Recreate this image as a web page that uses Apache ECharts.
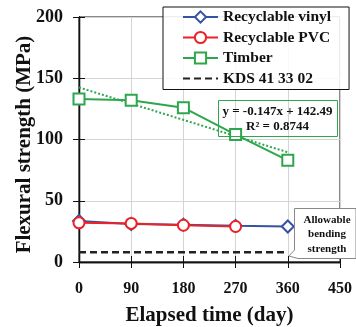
<!DOCTYPE html>
<html><head><meta charset="utf-8">
<script src="https://cdn.jsdelivr.net/npm/echarts@6/dist/echarts.min.js"></script>
<style>html,body{margin:0;padding:0;background:#fff}#c{width:356px;height:327px}</style>
</head><body><div id="c"></div>
<script>
const days = [0, 90, 180, 270, 360];
const vinyl = [33.5, 31, 30.5, 29.5, 29];
const pvc = [32, 31.5, 30, 29, null];
const timber = [133, 132, 126, 104, 83];
const trendDays = [0, 360];
const trendValues = [142.49, 89.57];
const kdsDays = [0, 360];
const kdsValues = [8, 8];
const xMin = 0, xMax = 450, xStep = 90;
const yMin = 0, yMax = 200, yStep = 50;
const names = ['Recyclable vinyl', 'Recyclable PVC', 'Timber', 'KDS 41 33 02'];
const eqLines = ['y = -0.147x + 142.49', 'R\u00b2 = 0.8744'];
const noteLines = ['Allowable', 'bending', 'strength'];

const F = 'Liberation Serif';
const pairs = (xs, ys) => xs.map((x, i) => [x, ys[i]]);
const BLUE = '#3553a5', RED = '#ec2227', GREEN = '#2ea64c';

const chart = echarts.init(document.getElementById('c'));
const axisBase = {
  type: 'value',
  axisLine: { show: true, lineStyle: { color: '#111', width: 1.3 } },
};
chart.setOption({
  animation: false,
  backgroundColor: '#fff',
  grid: { left: 79, right: 16, top: 17, bottom: 65, show: true, borderColor: '#111', borderWidth: 1, backgroundColor: 'transparent', containLabel: false, outerBoundsMode: 'none' },
  legend: {
    orient: 'vertical', left: 163, top: 7,
    data: [
      { name: names[0] }, { name: names[1] }, { name: names[2] },
      { name: names[3], itemStyle: { color: 'rgba(0,0,0,0)', borderColor: 'rgba(0,0,0,0)', borderWidth: 0 } }
    ],
    itemWidth: 35, itemHeight: 14, itemGap: 4.5,
    padding: [2, 18, 3, 19],
    borderColor: '#111', borderWidth: 1,
    backgroundColor: 'rgba(255,255,255,0.85)',
    textStyle: { fontFamily: F, fontWeight: 'bold', fontSize: 15.5, lineHeight: 14, color: '#111' }
  },
  xAxis: [
    Object.assign({}, axisBase, {
      min: xMin, max: xMax, interval: xStep,
      name: 'Elapsed time (day)', nameLocation: 'middle', nameGap: 43, nameMoveOverlap: false,
      nameTextStyle: { fontFamily: F, fontWeight: 'bold', fontSize: 21, color: '#111' },
      axisTick: { show: true, length: 6, inside: false, lineStyle: { color: '#111' } },
      axisLabel: { fontFamily: F, fontWeight: 'bold', fontSize: 16, color: '#111', margin: 19 },
      splitLine: { show: true, lineStyle: { color: '#d4d4d4', width: 1 } }
    }),
    Object.assign({}, axisBase, {
      min: xMin, max: xMax, interval: xStep, position: 'bottom',
      axisTick: { show: true, length: 6, inside: true, lineStyle: { color: '#111' } },
      axisLabel: { show: false }, splitLine: { show: false }
    })
  ],
  yAxis: [
    Object.assign({}, axisBase, {
      min: yMin, max: yMax, interval: yStep,
      name: 'Flexural strength (MPa)', nameLocation: 'middle', nameGap: 44, nameMoveOverlap: false,
      nameTextStyle: { fontFamily: F, fontWeight: 'bold', fontSize: 21, color: '#111', padding: [0, 10, 0, 0] },
      axisTick: { show: true, length: 6, inside: false, lineStyle: { color: '#111' } },
      axisLabel: { fontFamily: F, fontWeight: 'bold', fontSize: 18, color: '#111', margin: 16 },
      splitLine: { show: true, lineStyle: { color: '#d4d4d4', width: 1 } }
    }),
    Object.assign({}, axisBase, {
      min: yMin, max: yMax, interval: yStep, position: 'left',
      axisTick: { show: true, length: 6, inside: true, lineStyle: { color: '#111' } },
      axisLabel: { show: false }, splitLine: { show: false }
    })
  ],
  series: [
    {
      name: 'trend', type: 'line', data: pairs(trendDays, trendValues), symbol: 'none',
      lineStyle: { color: GREEN, width: 2, type: [2, 2] }, z: 2, silent: true
    },
    {
      name: names[3], type: 'line', data: pairs(kdsDays, kdsValues), symbol: 'none',
      lineStyle: { color: '#222', width: 2.5, type: [7, 4] }, itemStyle: { color: '#222' }, z: 2
    },
    {
      name: names[0], type: 'line', data: pairs(days, vinyl), symbol: 'diamond', symbolSize: 12,
      lineStyle: { color: BLUE, width: 2 }, itemStyle: { color: '#fff', borderColor: BLUE, borderWidth: 2 }, z: 3
    },
    {
      name: names[1], type: 'line', data: pairs(days, pvc), symbol: 'circle', symbolSize: 11,
      lineStyle: { color: RED, width: 2 }, itemStyle: { color: '#fff', borderColor: RED, borderWidth: 2 }, z: 4
    },
    {
      name: names[2], type: 'line', data: pairs(days, timber), symbol: 'rect', symbolSize: 11,
      lineStyle: { color: GREEN, width: 2 }, itemStyle: { color: '#fff', borderColor: GREEN, borderWidth: 2 }, z: 4
    }
  ],
  graphic: [
    { type: 'rect', shape: { x: 218.5, y: 100.5, width: 119, height: 36 }, style: { fill: 'none', stroke: GREEN, lineWidth: 1 }, z: 10 },
    { type: 'text', x: 277.5, y: 112, style: { text: eqLines[0], fill: '#111', font: 'bold 13px "Liberation Serif"', textAlign: 'center', textVerticalAlign: 'middle' }, z: 10 },
    { type: 'text', x: 277.5, y: 127, style: { text: eqLines[1], fill: '#111', font: 'bold 13px "Liberation Serif"', textAlign: 'center', textVerticalAlign: 'middle' }, z: 10 },
    { type: 'polygon', shape: { points: [[294.5, 208.5], [356, 208.5], [356, 258.5], [298, 258.5], [289, 256], [294.5, 250]] }, style: { fill: '#fff', stroke: '#888', lineWidth: 1 }, z: 10 },
    { type: 'text', x: 327, y: 220, style: { text: noteLines[0], fill: '#111', font: 'bold 11px "Liberation Serif"', textAlign: 'center', textVerticalAlign: 'middle' }, z: 11 },
    { type: 'text', x: 327, y: 234.5, style: { text: noteLines[1], fill: '#111', font: 'bold 11px "Liberation Serif"', textAlign: 'center', textVerticalAlign: 'middle' }, z: 11 },
    { type: 'text', x: 327, y: 249, style: { text: noteLines[2], fill: '#111', font: 'bold 11px "Liberation Serif"', textAlign: 'center', textVerticalAlign: 'middle' }, z: 11 }
  ]
});
</script></body></html>
